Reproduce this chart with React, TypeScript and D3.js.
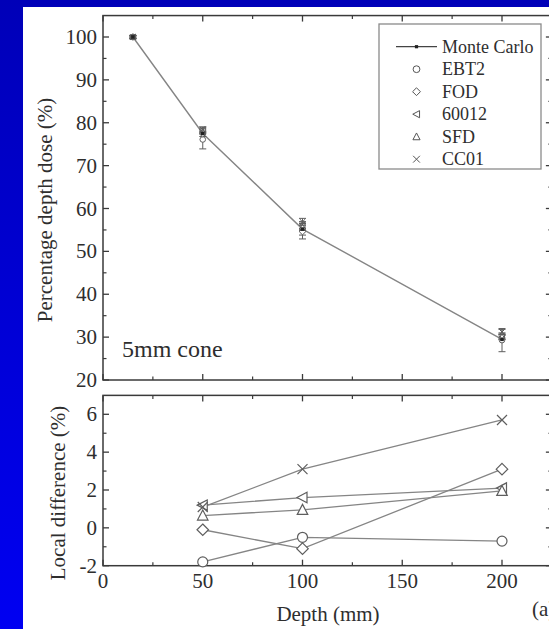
import React from "react";
import * as d3 from "d3";

// ---------- data ----------
const depthsPdd = [15, 50, 100, 200];
const mcPdd = [100, 77.5, 55.2, 29.5];
const ebt2Pdd = [100, 76.1, 54.9, 29.3];
const ebt2Err = [0.4, 2.2, 2.0, 2.7];
const fodPdd = [100, 77.4, 54.6, 30.4];
const ptwPdd = [100, 78.4, 56.1, 30.1];
const sfdPdd = [100, 78.0, 55.7, 30.1];
const cc01Pdd = [100, 78.4, 56.9, 31.2];
const smallErr = [0.3, 0.6, 0.8, 0.6];

const depthsDiff = [50, 100, 200];
const ebt2Diff = [-1.8, -0.5, -0.7];
const fodDiff = [-0.1, -1.1, 3.1];
const ptwDiff = [1.2, 1.6, 2.1];
const sfdDiff = [0.65, 0.95, 1.95];
const cc01Diff = [1.1, 3.1, 5.7];

const xTicks = [0, 50, 100, 150, 200];
const xMinor = [25, 75, 125, 175];
const yTopTicks = [20, 30, 40, 50, 60, 70, 80, 90, 100];
const yTopMinor = [25, 35, 45, 55, 65, 75, 85, 95];
const yBotTicks = [-2, 0, 2, 4, 6];
const yBotMinor = [-1, 1, 3, 5];

const legendNames = ["Monte Carlo", "EBT2", "FOD", "60012", "SFD", "CC01"];
const legendSymbols = ["mc", "circle", "diamond", "tri-left", "tri-up", "cross"];

// ---------- scales ----------
const x = d3.scaleLinear().domain([0, 200]).range([103, 502]);
const yTop = d3.scaleLinear().domain([20, 100]).range([380, 37]);
const yBot = d3.scaleLinear().domain([-2, 6]).range([565.7, 414.3]);

const X0 = x(0);
const X1 = x(225);
const TOP_T = yTop(105);
const TOP_B = yTop(20);
const BOT_T = yBot(7);
const BOT_B = yBot(-2);

const FRAME = "#3a3a3a";
const LINE = "#858585";
const MARK = "#5e5e5e";
const TEXT = "#2e2e2e";
const FONT = "Liberation Serif";

function T(props: any) {
  return <text fontFamily={FONT} fill={TEXT} {...props} />;
}

function Marker({ type, cx, cy, s, color, sw }: any) {
  const c = color || MARK;
  const w = sw || 1.2;
  switch (type) {
    case "circle":
      return <circle cx={cx} cy={cy} r={s} fill="white" stroke={c} strokeWidth={w} />;
    case "diamond":
      return (
        <path
          d={`M${cx},${cy - s * 1.15}L${cx + s * 1.15},${cy}L${cx},${cy + s * 1.15}L${cx - s * 1.15},${cy}Z`}
          fill="white"
          stroke={c}
          strokeWidth={w}
        />
      );
    case "tri-left":
      return (
        <path
          d={`M${cx - s * 1.1},${cy}L${cx + s * 0.9},${cy - s * 1.05}L${cx + s * 0.9},${cy + s * 1.05}Z`}
          fill="white"
          stroke={c}
          strokeWidth={w}
        />
      );
    case "tri-up":
      return (
        <path
          d={`M${cx},${cy - s * 1.1}L${cx + s * 1.05},${cy + s * 0.9}L${cx - s * 1.05},${cy + s * 0.9}Z`}
          fill="white"
          stroke={c}
          strokeWidth={w}
        />
      );
    case "cross":
      return (
        <path
          d={`M${cx - s},${cy - s}L${cx + s},${cy + s}M${cx - s},${cy + s}L${cx + s},${cy - s}`}
          fill="none"
          stroke={c}
          strokeWidth={w}
        />
      );
    case "mc":
      return <rect x={cx - s} y={cy - s} width={2 * s} height={2 * s} fill="#222" />;
    default:
      return null;
  }
}

function Frame({ top, bottom, yScale, major, minor }: any) {
  const els: any[] = [];
  xTicks.forEach((t, i) => {
    els.push(<line key={"xb" + i} x1={x(t)} x2={x(t)} y1={bottom} y2={bottom - 6} stroke={FRAME} strokeWidth={1.3} />);
    els.push(<line key={"xt" + i} x1={x(t)} x2={x(t)} y1={top} y2={top + 6} stroke={FRAME} strokeWidth={1.3} />);
  });
  xMinor.forEach((t, i) => {
    els.push(<line key={"xbm" + i} x1={x(t)} x2={x(t)} y1={bottom} y2={bottom - 3.5} stroke={FRAME} strokeWidth={1.2} />);
    els.push(<line key={"xtm" + i} x1={x(t)} x2={x(t)} y1={top} y2={top + 3.5} stroke={FRAME} strokeWidth={1.2} />);
  });
  major.forEach((t: number, i: number) => {
    els.push(<line key={"yl" + i} x1={X0} x2={X0 + 6} y1={yScale(t)} y2={yScale(t)} stroke={FRAME} strokeWidth={1.3} />);
    els.push(<line key={"yr" + i} x1={X1} x2={X1 - 6} y1={yScale(t)} y2={yScale(t)} stroke={FRAME} strokeWidth={1.3} />);
  });
  minor.forEach((t: number, i: number) => {
    els.push(<line key={"ylm" + i} x1={X0} x2={X0 + 3.5} y1={yScale(t)} y2={yScale(t)} stroke={FRAME} strokeWidth={1.2} />);
    els.push(<line key={"yrm" + i} x1={X1} x2={X1 - 3.5} y1={yScale(t)} y2={yScale(t)} stroke={FRAME} strokeWidth={1.2} />);
  });
  els.push(
    <rect key="frame" x={X0} y={top} width={X1 - X0} height={bottom - top} fill="none" stroke={FRAME} strokeWidth={1.5} />
  );
  return <g>{els}</g>;
}

export default function App() {
  const topLine = d3
    .line<number>()
    .x((_, i) => x(depthsPdd[i]))
    .y((d) => yTop(d));
  const botLine = d3
    .line<number>()
    .x((_, i) => x(depthsDiff[i]))
    .y((d) => yBot(d));

  const measured = [
    { type: "circle", vals: ebt2Pdd, err: ebt2Err },
    { type: "diamond", vals: fodPdd, err: smallErr },
    { type: "tri-left", vals: ptwPdd, err: smallErr },
    { type: "tri-up", vals: sfdPdd, err: smallErr },
    { type: "cross", vals: cc01Pdd, err: smallErr },
  ];
  const diffs = [
    { type: "circle", vals: ebt2Diff },
    { type: "diamond", vals: fodDiff },
    { type: "tri-left", vals: ptwDiff },
    { type: "tri-up", vals: sfdDiff },
    { type: "cross", vals: cc01Diff },
  ];

  return (
    <svg width={549} height={629} style={{ position: "absolute", left: 0, top: 0 }}>
      <defs>
        <linearGradient id="bg" x1="0" y1="0" x2="0" y2="1">
          <stop offset="0" stopColor="#0000b8" />
          <stop offset="1" stopColor="#0000f2" />
        </linearGradient>
      </defs>
      <rect x={0} y={0} width={549} height={629} fill="url(#bg)" />
      <rect x={23} y={7} width={526} height={622} fill="white" />

      {/* upper panel */}
      <Frame top={TOP_T} bottom={TOP_B} yScale={yTop} major={yTopTicks} minor={yTopMinor} />
      {yTopTicks.map((t) => (
        <T key={"ytl" + t} x={97} y={yTop(t) + 7} textAnchor="end" fontSize={21}>
          {t}
        </T>
      ))}
      <path d={topLine(mcPdd) || ""} fill="none" stroke={LINE} strokeWidth={1.4} />
      {measured.map((m, k) =>
        m.vals.map((v, i) => {
          const cx = x(depthsPdd[i]);
          const e = m.err[i];
          return (
            <g key={"m" + k + "_" + i}>
              <line x1={cx} x2={cx} y1={yTop(v - e)} y2={yTop(v + e)} stroke={MARK} strokeWidth={1} />
              <line x1={cx - 3.5} x2={cx + 3.5} y1={yTop(v - e)} y2={yTop(v - e)} stroke={MARK} strokeWidth={1} />
              <line x1={cx - 3.5} x2={cx + 3.5} y1={yTop(v + e)} y2={yTop(v + e)} stroke={MARK} strokeWidth={1} />
              <Marker type={m.type} cx={cx} cy={yTop(v)} s={2.8} sw={1} />
            </g>
          );
        })
      )}
      {mcPdd.map((v, i) => (
        <Marker key={"mc" + i} type="mc" cx={x(depthsPdd[i])} cy={yTop(v)} s={1.8} />
      ))}
      <T x={122} y={357} fontSize={24}>
        5mm cone
      </T>

      {/* legend */}
      <rect x={379} y={24} width={162} height={145} fill="white" stroke="#8a8a8a" strokeWidth={1.3} />
      {legendNames.map((name, i) => {
        const cy = 46.7 + i * 22.5;
        return (
          <g key={"lg" + i}>
            {legendSymbols[i] === "mc" ? (
              <g>
                <line x1={396} x2={437} y1={cy} y2={cy} stroke="#444" strokeWidth={1.2} />
                <Marker type="mc" cx={416.5} cy={cy} s={1.6} />
              </g>
            ) : (
              <Marker type={legendSymbols[i]} cx={416.5} cy={cy} s={3.4} sw={1} color="#555" />
            )}
            <T x={442} y={cy + 6} fontSize={18}>
              {name}
            </T>
          </g>
        );
      })}

      <T transform={`translate(52,210) rotate(-90)`} textAnchor="middle" fontSize={21}>
        Percentage depth dose (%)
      </T>

      {/* lower panel */}
      <Frame top={BOT_T} bottom={BOT_B} yScale={yBot} major={yBotTicks} minor={yBotMinor} />
      {yBotTicks.map((t) => (
        <T key={"ybl" + t} x={97} y={yBot(t) + 7} textAnchor="end" fontSize={21}>
          {t}
        </T>
      ))}
      {diffs.map((d, k) => (
        <path key={"dl" + k} d={botLine(d.vals) || ""} fill="none" stroke={LINE} strokeWidth={1.3} />
      ))}
      {diffs.map((d, k) =>
        d.vals.map((v, i) => (
          <Marker key={"dm" + k + "_" + i} type={d.type} cx={x(depthsDiff[i])} cy={yBot(v)} s={5} sw={1.2} />
        ))
      )}
      <T transform={`translate(65,493) rotate(-90)`} textAnchor="middle" fontSize={21}>
        Local difference (%)
      </T>

      {xTicks.map((t) => (
        <T key={"xl" + t} x={x(t)} y={588} textAnchor="middle" fontSize={21}>
          {t}
        </T>
      ))}
      <T x={328} y={621} textAnchor="middle" fontSize={21}>
        Depth (mm)
      </T>
      <T x={532} y={616} fontSize={21}>
        (a)
      </T>
    </svg>
  );
}
